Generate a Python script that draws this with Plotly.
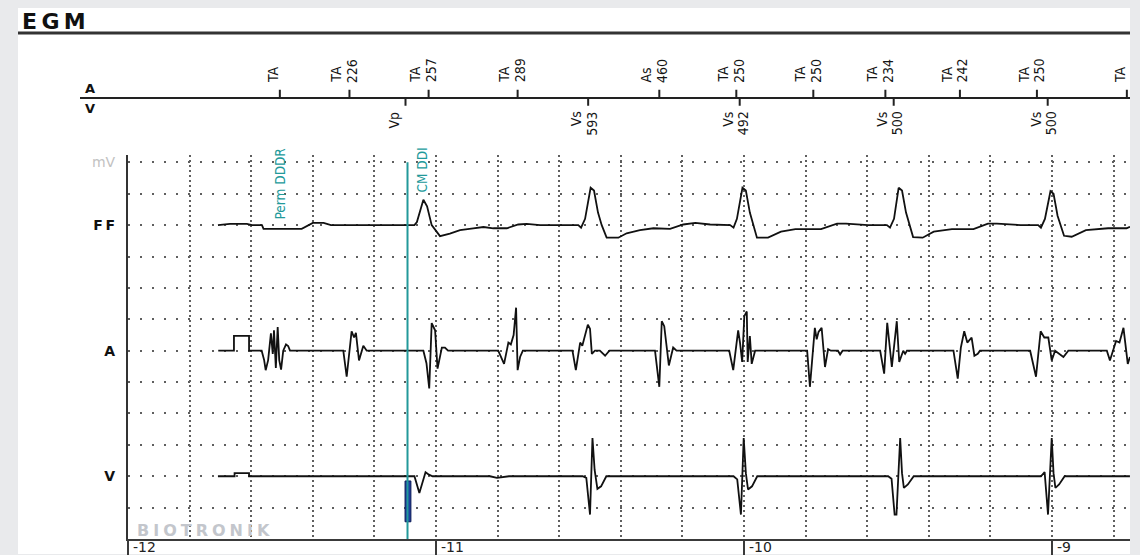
import plotly.graph_objects as go

W, H = 1140, 555

# ---------------- data ----------------
x_range = [-12.0, -8.7468]
x_tick_vals = [-12, -11, -10, -9]
x_tick_text = ["-12", "-11", "-10", "-9"]

y_tick_vals = [2, 6, 10, 12]
y_tick_text = ["V", "A", "FF", "mV"]
channel_rows = {"V": 2, "A": 6, "FF": 10}

ff_t = [-11.708, -11.669, -11.614, -11.597, -11.565, -11.560, -11.436, -11.400, -11.365, -11.341,
        -11.070, -11.062, -11.041, -11.029, -11.014, -10.987, -10.955, -10.922, -10.879, -10.846,
        -10.814, -10.770, -10.733, -10.706, -10.662, -10.538, -10.529, -10.516, -10.498, -10.487,
        -10.474, -10.462, -10.446, -10.408, -10.381, -10.338, -10.294, -10.240, -10.197, -10.158,
        -10.110, -10.045, -10.034, -10.023, -10.005, -9.994, -9.981, -9.969, -9.958, -9.922,
        -9.880, -9.833, -9.750, -9.698, -9.669, -9.597, -9.536, -9.526, -9.513, -9.498,
        -9.487, -9.474, -9.463, -9.451, -9.420, -9.384, -9.325, -9.255, -9.208, -9.179,
        -9.101, -9.045, -9.036, -9.023, -9.005, -8.995, -8.982, -8.971, -8.961, -8.936,
        -8.890, -8.818, -8.758, -8.747]
ff_v = [0, 0.04, 0.04, 0, 0, -0.12, -0.12, 0.07, 0.07, 0,
        0, 0.1, 0.81, 0.6, 0, -0.35, -0.27, -0.16, -0.1, -0.06,
        -0.1, -0.1, 0.02, 0.04, 0, 0, -0.08, 0.2, 1.19, 1.1,
        0.4, 0, -0.4, -0.4, -0.26, -0.16, -0.1, -0.12, 0.02, 0.07,
        0.02, 0, -0.08, 0.2, 1.19, 1.1, 0.4, 0, -0.4, -0.4,
        -0.21, -0.13, -0.13, 0.05, 0.05, 0, 0, -0.08, 0.2, 1.19,
        1.1, 0.4, 0, -0.38, -0.4, -0.21, -0.13, -0.13, 0.05, 0.05,
        0, 0, -0.08, 0.2, 1.08, 1.0, 0.3, 0, -0.34, -0.37,
        -0.16, -0.1, -0.1, -0.05]

a_t = [-11.707, -11.656, -11.656, -11.607, -11.607, -11.566, -11.558, -11.553, -11.545, -11.536,
       -11.530, -11.526, -11.520, -11.514, -11.509, -11.503, -11.496, -11.487, -11.480, -11.474,
       -11.301, -11.290, -11.274, -11.266, -11.260, -11.250, -11.236, -11.225,
       -11.041, -11.031, -11.022, -11.014, -11.003, -10.995, -10.981, -10.971, -10.961,
       -10.798, -10.779, -10.765, -10.757, -10.748, -10.740, -10.735, -10.727, -10.718,
       -10.557, -10.546, -10.532, -10.525, -10.507, -10.500, -10.494, -10.484, -10.468, -10.451, -10.437,
       -10.289, -10.275, -10.267, -10.259, -10.244, -10.230, -10.219,
       -10.048, -10.035, -10.019, -10.013, -10.006, -9.999, -9.991, -9.988, -9.981, -9.975, -9.964,
       -9.795, -9.786, -9.770, -9.764, -9.758, -9.748, -9.737, -9.727, -9.718, -9.695, -9.688, -9.680,
       -9.558, -9.545, -9.535, -9.520, -9.504, -9.496, -9.483, -9.477, -9.471,
       -9.320, -9.306, -9.296, -9.285, -9.275, -9.261, -9.252, -9.241, -9.234,
       -9.071, -9.052, -9.037, -9.025, -9.012, -9.001, -8.990, -8.963, -8.947,
       -8.822, -8.812, -8.792, -8.781, -8.768, -8.754, -8.747]
a_v = [0, 0, 0.47, 0.47, 0, 0, -0.3, -0.62, -0.3, 0.55,
       -0.1, 0.65, -0.55, 0.75, -0.3, -0.6, 0.0, 0.2, 0.15, 0,
       0, -0.83, 0.62, 0.42, 0.57, -0.31, 0.16, 0,
       0, -0.4, -1.2, 0.88, 0.65, -0.57, 0.1, 0.1, 0,
       0, -0.42, 0.26, 0.2, 0.5, 1.37, -0.62, -0.2, 0,
       0, -0.62, 0.26, 0.16, 0.83, 0.7, -0.1, 0, 0, -0.16, 0,
       0, -1.15, 0.94, 0.78, -0.47, 0.1, 0,
       0, -0.62, 0.65, 0.26, -0.36, 1.1, 1.25, -0.36, 0.47, -0.42, 0,
       0, -1.15, 0.73, 0.36, 0.6, 0.73, -0.52, 0.05, 0, 0, -0.12, 0,
       0, -0.73, 0.89, -0.52, 0.94, -0.36, 0, -0.1, 0,
       0, -0.89, 0.1, 0.62, 0.26, 0.42, -0.16, -0.1, 0,
       0, -0.83, 0.62, 0.42, 0.42, -0.31, 0, -0.2, 0,
       0, -0.31, 0.31, 0.26, 0.73, -0.42, -0.2]

v_t = [-11.708, -11.654, -11.654, -11.607, -11.607, -11.070, -11.054, -11.045, -11.034, -11.023,
       -11.011, -10.825, -10.802, -10.763,
       -10.524, -10.512, -10.500, -10.492, -10.485, -10.476, -10.464, -10.447,
       -10.034, -10.022, -10.010, -10.001, -9.994, -9.987, -9.974, -9.957,
       -9.532, -9.521, -9.511, -9.505, -9.493, -9.487, -9.481, -9.468, -9.449,
       -9.036, -9.024, -9.013, -9.001, -8.995, -8.989, -8.977, -8.959, -8.747]
v_v = [0, 0, 0.1, 0.1, 0, 0, -0.53, -0.2, 0.13, 0.05,
       0, 0, -0.05, 0,
       0, -0.05, -1.22, 1.22, 0.2, -0.4, -0.32, 0,
       0, -0.1, -1.22, 1.22, 0.1, -0.42, -0.32, 0,
       0, -0.08, -1.22, -1.22, 1.22, 0.1, -0.37, -0.26, 0,
       0, 0.13, -1.22, 1.22, 0.1, -0.37, -0.26, 0, 0]

# markers (top strip)
a_mark_t = [-11.507, -11.281, -11.024, -10.735, -10.275, -10.025, -9.775, -9.541, -9.299, -9.049, -8.757]
a_mark_type = ["TA", "TA", "TA", "TA", "As", "TA", "TA", "TA", "TA", "TA", "TA"]
a_mark_int = ["", "226", "257", "289", "460", "250", "250", "234", "242", "250", ""]
v_mark_t = [-11.099, -10.506, -10.014, -9.514, -9.014]
v_mark_type = ["Vp", "Vs", "Vs", "Vs", "Vs"]
v_mark_int = ["", "593", "492", "500", "500"]

# mode-switch events
event_t = [-11.552, -11.0925]
event_label = ["Perm DDDR", "CM DDI"]
event_has_line = [False, True]
event_line_top = 12

# ventricular pace marker
pace_t = [-11.091]
pace_lo = [0.55]
pace_hi = [1.85]

assert len(ff_t) == len(ff_v) and len(a_t) == len(a_v) and len(v_t) == len(v_v)

# ---------------- style ----------------
BG = "#e9eaec"
INK = "#111111"
TEAL = "#22999a"
GRID = "#5e5e5e"
NARROW = "Liberation Sans Narrow, Arial Narrow, DejaVu Sans Condensed, Liberation Sans, sans-serif"


def px_x(p):
    return p / W


def px_y(p):
    return (H - p) / H


d0, d1, s0 = px_x(128), px_x(1130), px_x(80)
sec_per_paper = (x_range[1] - x_range[0]) / (d1 - d0)
x2_range = [x_range[0] - (d0 - s0) * sec_per_paper, x_range[1]]

fig = go.Figure()

# EGM channels
for name, t, v in [("FF", ff_t, ff_v), ("A", a_t, a_v), ("V", v_t, v_v)]:
    row = channel_rows[name]
    fig.add_trace(go.Scatter(x=t, y=[row + val for val in v], mode="lines",
                             line=dict(color=INK, width=1.8), xaxis="x", yaxis="y",
                             hoverinfo="skip", showlegend=False))

# pace bar
fig.add_trace(go.Bar(x=pace_t, base=pace_lo, y=[h - l for h, l in zip(pace_hi, pace_lo)],
                     width=0.019, marker=dict(color="#1d3e9e", line=dict(color="#0c1a55", width=1)),
                     xaxis="x", yaxis="y", hoverinfo="skip", showlegend=False))

# event lines
for t, has in zip(event_t, event_has_line):
    if has:
        fig.add_trace(go.Scatter(x=[t, t], y=[0, event_line_top], mode="lines",
                                 line=dict(color=TEAL, width=2), xaxis="x", yaxis="y",
                                 hoverinfo="skip", showlegend=False))

# marker ticks on the strip
tx, ty = [], []
for t in a_mark_t:
    tx += [t, t, None]
    ty += [0, 8, None]
for t in v_mark_t:
    tx += [t, t, None]
    ty += [0, -8, None]
fig.add_trace(go.Scatter(x=tx, y=ty, mode="lines", line=dict(color="#222", width=2),
                         xaxis="x2", yaxis="y2", hoverinfo="skip", showlegend=False))

ann = []
lab_font = dict(family=NARROW, size=14, color="#151515")


def add_marker(t, kind, interval, y, yanchor, shift_single, shift_kind, shift_int):
    if not interval:
        ann.append(dict(x=t, y=y, xref="x2", yref="y2", text=kind, textangle=-90, showarrow=False,
                        xanchor="center", yanchor=yanchor, xshift=shift_single, font=lab_font))
    else:
        ann.append(dict(x=t, y=y, xref="x2", yref="y2", text=kind, textangle=-90, showarrow=False,
                        xanchor="center", yanchor=yanchor, xshift=shift_kind, font=lab_font))
        ann.append(dict(x=t, y=y, xref="x2", yref="y2", text=interval, textangle=-90, showarrow=False,
                        xanchor="center", yanchor=yanchor, xshift=shift_int, font=lab_font))


for t, k, iv in zip(a_mark_t, a_mark_type, a_mark_int):
    add_marker(t, k, iv, 13, "bottom", -7, -13, 2)
for t, k, iv in zip(v_mark_t, v_mark_type, v_mark_int):
    add_marker(t, k, iv, -12, "top", -11, -12, 3)

# strip row labels
for lab, yv in [("A", 9), ("V", -11)]:
    ann.append(dict(x=0.003, y=yv, xref="x2 domain", yref="y2", text=f"<b>{lab}</b>",
                    showarrow=False, xanchor="left", yanchor="middle",
                    font=dict(family="DejaVu Sans", size=13, color=INK)))

# event labels
for t, lab in zip(event_t, event_label):
    ann.append(dict(x=t, y=px_y(145), xref="x", yref="paper", text=lab, textangle=-90,
                    showarrow=False, xanchor="center", yanchor="top", xshift=14,
                    font=dict(family=NARROW, size=13.5, color=TEAL)))

# bottom time labels
for tv, tt in zip(x_tick_vals, x_tick_text):
    ann.append(dict(x=tv, y=px_y(538), xref="x", yref="paper", text=tt, showarrow=False,
                    xanchor="left", yanchor="top", xshift=3,
                    font=dict(family="DejaVu Sans", size=14, color="#222")))

# title and watermark
ann.append(dict(x=px_x(20), y=px_y(6), xref="paper", yref="paper", text="<b>E\u2009G\u2009M</b>",
                showarrow=False, xanchor="left", yanchor="top",
                font=dict(family="DejaVu Sans", size=22, color=INK)))
ann.append(dict(x=px_x(135), y=px_y(531), xref="paper", yref="paper",
                text="<b>" + "\u2005".join("BIOTRONIK") + "</b>",
                showarrow=False, xanchor="left", yanchor="middle",
                font=dict(family="DejaVu Sans", size=16, color="#c3c6cc")))

y_text = []
for lab in y_tick_text:
    if lab == "mV":
        y_text.append("<span style='color:#c2c2c2;font-size:14px'>mV</span>")
    else:
        y_text.append("<b>" + "\u2009".join(lab) + "</b>")

grid_x = dict(showgrid=True, gridcolor=GRID, griddash="2px,3px", gridwidth=1.6)
grid_y = dict(showgrid=True, gridcolor=GRID, griddash="2px,10px", gridwidth=1.6)

fig.update_layout(
    width=W, height=H, margin=dict(l=0, r=0, t=0, b=0),
    paper_bgcolor=BG, plot_bgcolor="white", showlegend=False,
    xaxis=dict(domain=[d0, d1], range=x_range, anchor="y", tick0=-12, dtick=1,
               showline=True, linecolor="#3a3a3a", linewidth=2, ticks="outside", ticklen=16,
               tickwidth=2, tickcolor="#3a3a3a", showticklabels=False, zeroline=False,
               minor=dict(tick0=-12, dtick=0.2, ticks="", **grid_x), **grid_x),
    yaxis=dict(domain=[px_y(540), px_y(155)], range=[0, 12.22], anchor="x",
               tickmode="array", tickvals=y_tick_vals, ticktext=y_text, ticks="",
               ticklabelstandoff=8, tickfont=dict(family="DejaVu Sans", size=14, color=INK),
               showline=True, linecolor="#333", linewidth=2, zeroline=False,
               minor=dict(tick0=0, dtick=1, ticks="", **grid_y), **grid_y),
    xaxis2=dict(domain=[s0, d1], range=x2_range, anchor="y2", showgrid=False, showline=False,
                zeroline=False, showticklabels=False, ticks=""),
    yaxis2=dict(domain=[px_y(150), px_y(40)], range=[-53, 57], anchor="x2", showgrid=False,
                showline=False, showticklabels=False, ticks="", zeroline=True,
                zerolinecolor="#222", zerolinewidth=2),
    annotations=ann,
    shapes=[
        dict(type="rect", xref="paper", yref="paper", x0=px_x(18), x1=px_x(1130), y0=0, y1=px_y(7),
             fillcolor="white", line=dict(width=0), layer="below"),
        dict(type="line", xref="paper", yref="paper", x0=px_x(18), x1=px_x(1130),
             y0=px_y(32), y1=px_y(32), line=dict(color="#333", width=3)),
    ],
)

fig.write_html("out.html")
